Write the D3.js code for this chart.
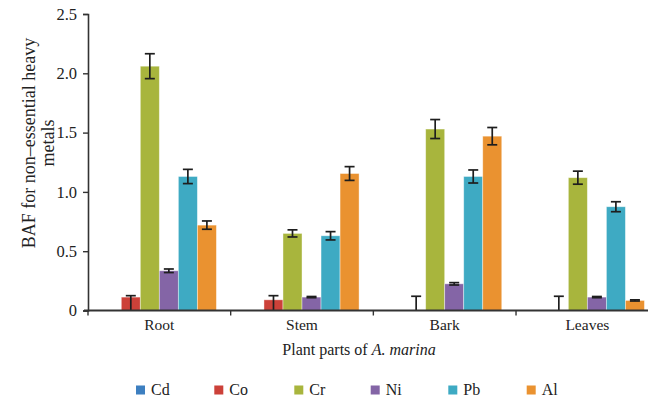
<!DOCTYPE html>
<html>
<head>
<meta charset="utf-8">
<script src="https://cdn.jsdelivr.net/npm/d3@7"></script>
<style>
  html, body { margin: 0; padding: 0; background: #fff; }
  svg { display: block; }
  text { font-family: "Liberation Serif", "Times New Roman", serif; fill: #222; }
</style>
</head>
<body>
<svg id="chart" width="648" height="399"></svg>
<script>
// Plant parts (x categories) and metals (series)
const parts = ["Root", "Stem", "Bark", "Leaves"];
const metals = ["Cd", "Co", "Cr", "Ni", "Pb", "Al"];
const colors = ["#3d7fc0", "#cc4139", "#a8b53d", "#8465a6", "#3eaac3", "#ea9230"];

// BAF values per metal, in the order of parts
const cdValues = [0, 0, 0, 0];
const coValues = [0.113, 0.09, 0, 0.004];
const crValues = [2.06, 0.65, 1.53, 1.12];
const niValues = [0.335, 0.113, 0.225, 0.113];
const pbValues = [1.13, 0.63, 1.13, 0.875];
const alValues = [0.72, 1.155, 1.47, 0.085];

// Error bar extents above / below each value (null = no error bar)
const cdErrUp = [null, null, null, null];
const cdErrDown = [null, null, null, null];
const coErrUp = [0.012, 0.035, 0.12, 0.116];
const coErrDown = [0.113, 0.09, 0, 0.004];
const crErr = [0.105, 0.03, 0.08, 0.055];
const niErr = [0.015, 0.005, 0.01, 0.005];
const pbErr = [0.06, 0.035, 0.055, 0.042];
const alErr = [0.035, 0.058, 0.073, 0.005];

const yTicks = [0, 0.5, 1.0, 1.5, 2.0, 2.5];

const seriesValues = [cdValues, coValues, crValues, niValues, pbValues, alValues];
const seriesErrUp = [cdErrUp, coErrUp, crErr, niErr, pbErr, alErr];
const seriesErrDown = [cdErrDown, coErrDown, crErr, niErr, pbErr, alErr];

const rows = [];
parts.forEach((p, i) => {
  metals.forEach((m, j) => {
    rows.push({
      part: p, metal: m, color: colors[j],
      value: seriesValues[j][i],
      up: seriesErrUp[j][i], down: seriesErrDown[j][i]
    });
  });
});

const svg = d3.select("#chart");
const plotLeft = 88, plotRight = 658.7, plotTop = 14, plotBottom = 310.5;

const y = d3.scaleLinear().domain([0, 2.5]).range([plotBottom, plotTop]);
const x0 = d3.scaleBand().domain(parts).range([plotLeft, plotRight]).padding(0);
const groupWidth = x0.bandwidth() * 0.8;
const x1 = d3.scaleBand().domain(metals).range([0, groupWidth]).padding(0);
const groupOffset = (x0.bandwidth() - groupWidth) / 2;

// Bars
svg.append("g").selectAll("rect")
  .data(rows.filter(d => d.value > 0))
  .join("rect")
  .attr("x", d => x0(d.part) + groupOffset + x1(d.metal))
  .attr("y", d => y(d.value))
  .attr("width", x1.bandwidth())
  .attr("height", d => y(0) - y(d.value))
  .attr("fill", d => d.color)
  .attr("stroke", "#fff")
  .attr("stroke-opacity", 0.5)
  .attr("stroke-width", 0.8);

// Error bars
const eb = svg.append("g").attr("stroke", "#1e1e1e").attr("stroke-width", 1.7).attr("fill", "none");
const capW = 5;
rows.filter(d => d.up !== null).forEach(d => {
  const cx = x0(d.part) + groupOffset + x1(d.metal) + x1.bandwidth() / 2;
  const hi = d.value + d.up;
  const lo = Math.max(0, d.value - d.down);
  eb.append("line").attr("x1", cx).attr("x2", cx).attr("y1", y(hi)).attr("y2", y(lo));
  eb.append("line").attr("x1", cx - capW).attr("x2", cx + capW).attr("y1", y(hi)).attr("y2", y(hi));
  if (lo > 0) {
    eb.append("line").attr("x1", cx - capW).attr("x2", cx + capW).attr("y1", y(lo)).attr("y2", y(lo));
  }
});

// Y axis
const yAxis = d3.axisLeft(y).tickValues(yTicks)
  .tickFormat(d => d === 0 ? "0" : d3.format(".1f")(d))
  .tickSize(5).tickPadding(6);
const gy = svg.append("g").attr("transform", `translate(${plotLeft},0)`).call(yAxis);
gy.select(".domain").attr("stroke", "#333").attr("stroke-width", 1.6);
gy.selectAll(".tick line").attr("stroke", "#333").attr("stroke-width", 1.4);
gy.selectAll(".tick text").attr("font-size", 16.5).attr("font-family", "Liberation Serif").attr("fill", "#222");

// X axis: boundary ticks between parts, labels at part centers
svg.append("line").attr("x1", plotLeft - 4).attr("x2", 648)
  .attr("y1", plotBottom).attr("y2", plotBottom).attr("stroke", "#333").attr("stroke-width", 1.8);
const bounds = parts.map(p => x0(p));
svg.append("g").selectAll("line").data(bounds).join("line")
  .attr("x1", d => d).attr("x2", d => d)
  .attr("y1", plotBottom).attr("y2", plotBottom + 5)
  .attr("stroke", "#333").attr("stroke-width", 1.4);
svg.append("g").selectAll("text").data(parts).join("text")
  .attr("x", d => x0(d) + x0.bandwidth() / 2)
  .attr("y", 330)
  .attr("text-anchor", "middle")
  .attr("font-size", 15.5)
  .text(d => d);

// Axis titles
const xt = svg.append("text").attr("x", 359).attr("y", 355).attr("text-anchor", "middle").attr("font-size", 16);
xt.append("tspan").text("Plant parts of ");
xt.append("tspan").attr("font-style", "italic").text("A. marina");

const yt = svg.append("text").attr("transform", "translate(35,143) rotate(-90)")
  .attr("text-anchor", "middle").attr("font-size", 18);
yt.append("tspan").attr("x", 0).attr("y", 0).text("BAF for non\u2013essential heavy");
yt.append("tspan").attr("x", 0).attr("y", 19).text("metals");

// Legend
const legendX = [136, 214.3, 294.3, 370.7, 448.3, 526.7];
const lg = svg.append("g").selectAll("g").data(metals).join("g")
  .attr("transform", (d, i) => `translate(${legendX[i]},385.5)`);
lg.append("rect").attr("width", 9).attr("height", 9).attr("fill", (d, i) => colors[i]);
lg.append("text").attr("x", 15).attr("y", 9.5).attr("font-size", 16).text(d => d);
</script>
</body>
</html>
